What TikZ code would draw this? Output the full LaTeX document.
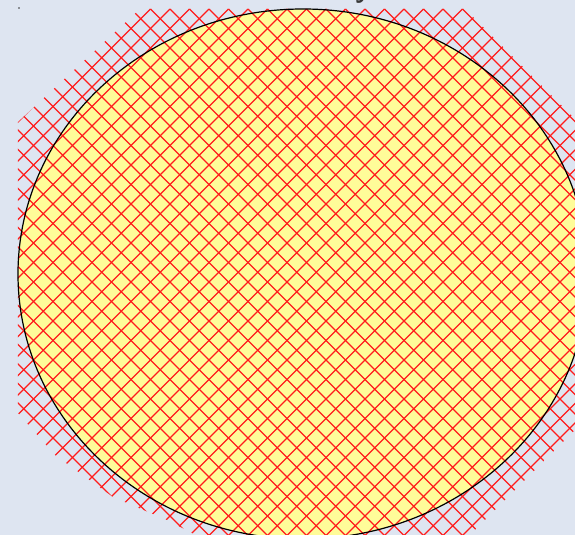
\documentclass[tikz,border=0pt]{standalone}
\usepackage{tikz}

\definecolor{bgblue}{RGB}{222,229,241}
\definecolor{discfill}{RGB}{255,252,153}
\definecolor{hatchred}{RGB}{255,28,28}
\definecolor{titlegray}{RGB}{55,55,55}

\begin{document}
\begin{tikzpicture}[
    x=0.5pt, y=-0.5pt,
    hatchline/.style={hatchred, line width=0.65pt},
    discedge/.style={black, line width=0.6pt},
    titletext/.style={font=\Large\sffamily\bfseries, text=titlegray, inner sep=0pt},
]

\def\hp{19.5}   % hatch period (pixels)
\def\dcx{303}   % disc centre x
\def\dcy{274}   % disc centre y

% ── Canvas ──────────────────────────────────────────────────
\useasboundingbox (0,0) rectangle (575,535);
\clip (0,0) rectangle (575,535);
\fill[bgblue] (0,0) rectangle (575,535);

% ── Disc ────────────────────────────────────────────────────
\fill[discfill] (\dcx,\dcy) ellipse [x radius=285, y radius=265];

% ── Cross hatch (overflows the disc) ────────────────────────
\begin{scope}
    \clip (18,122) -- (140,9) -- (465,9) -- (600,144) -- (600,405)
        -- (470,535) -- (215,545) -- (167,520) -- (113,497)
        -- (55,455) -- (18,413) -- cycle;
    % rising lines: x+y = const
    \foreach \k in {-20,...,40} {
        \pgfmathsetmacro{\sumc}{374+\k*\hp}
        \draw[hatchline] ({\sumc+50},-50) -- ({\sumc-650},650);
    }
    % falling lines: x-y = const
    \foreach \k in {-47,...,13} {
        \pgfmathsetmacro{\difc}{356+\k*\hp}
        \draw[hatchline] ({\difc-50},-50) -- ({\difc+650},650);
    }
\end{scope}

\draw[discedge] (\dcx,\dcy) ellipse [x radius=285, y radius=265];

% ── Title (cut off at the top) ──────────────────────────────
\node[titletext, anchor=base west] (title) at (355,-2) {y};
\fill[titlegray] (19,8) circle [radius=0.8];

\end{tikzpicture}
\end{document}
